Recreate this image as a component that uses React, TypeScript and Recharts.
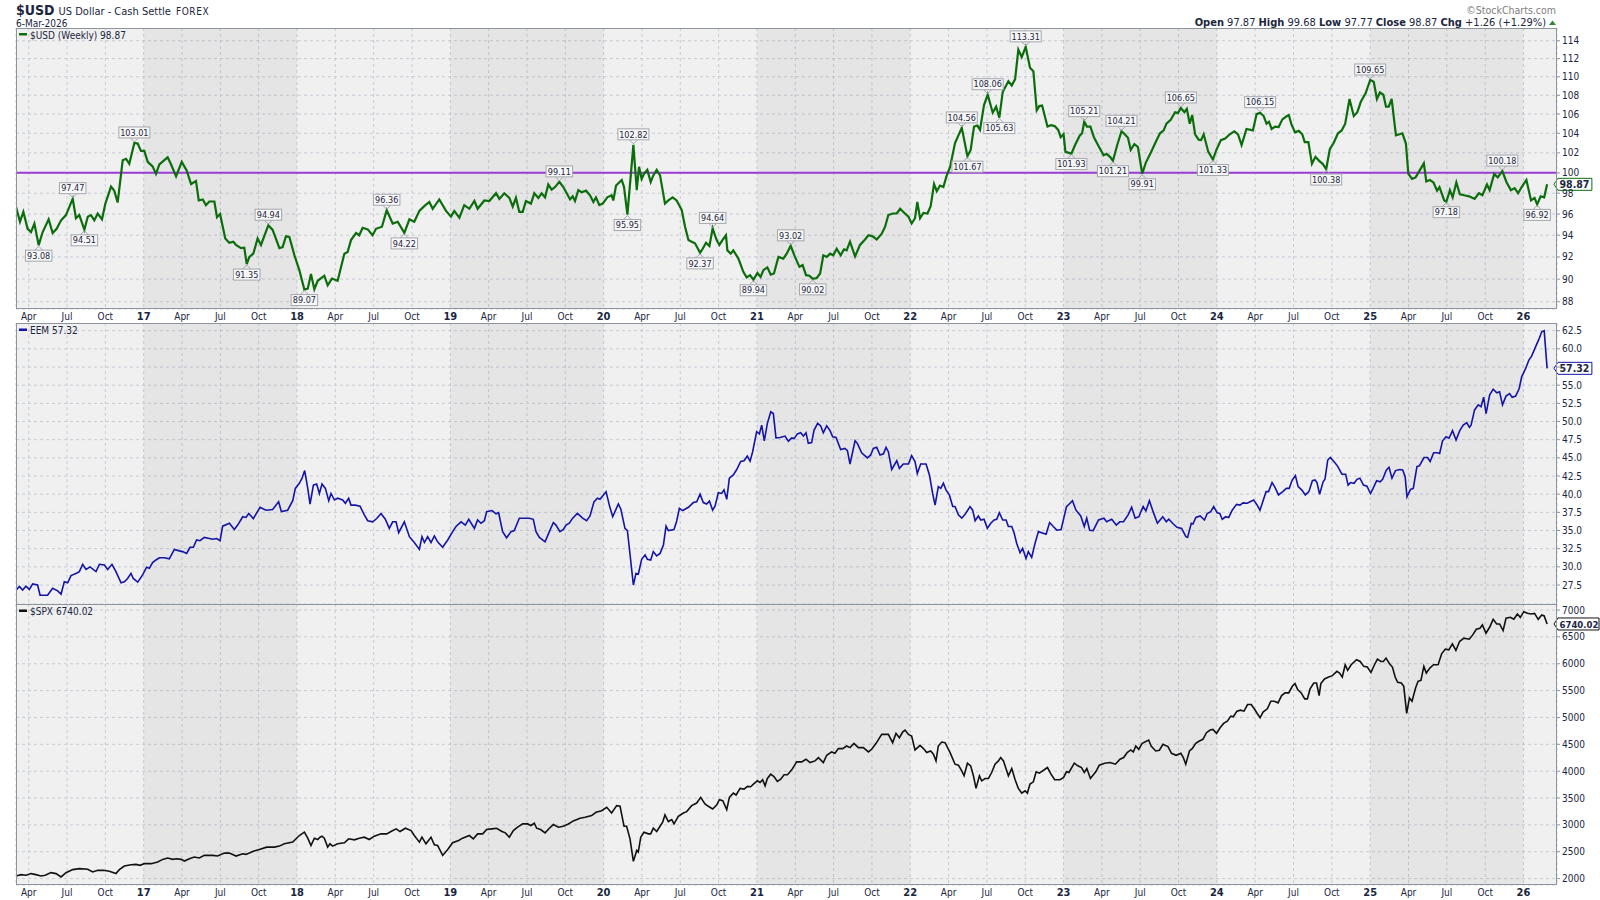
import React from 'react'
import {
  LineChart, Line, XAxis, YAxis, CartesianGrid,
  ReferenceArea, ReferenceLine, ReferenceDot,
} from 'recharts'

const FONT = '"DejaVu Sans Condensed", "DejaVu Sans", Verdana, sans-serif'
const INK = '#1b2640'
const FRAME = '#8e949c'

// time axis (fractional years)
const T0 = 2016.167
const T1 = 2026.2185
const years = [2016, 2017, 2018, 2019, 2020, 2021, 2022, 2023, 2024, 2025, 2026]
const monthLabels = ['Apr', 'Jul', 'Oct']
const shadedYears = [2017, 2019, 2021, 2023, 2025]

const usdTicks = [88, 90, 92, 94, 96, 98, 100, 102, 104, 106, 108, 110, 112, 114]
const eemTicks = [27.5, 30, 32.5, 35, 37.5, 40, 42.5, 45, 47.5, 50, 52.5, 55, 57.5, 60, 62.5]
const spxTicks = [2000, 2500, 3000, 3500, 4000, 4500, 5000, 5500, 6000, 6500, 7000]

const usdPivot = 100
const usdLast = 98.87
const eemLast = 57.32
const spxLast = 6740.02

const usdWeekly: [number, number][] = [
  [2016.167, 96.7], [2016.193, 95.27], [2016.215, 96.2], [2016.243, 94.6], [2016.265, 94.3], [2016.287, 95.1],
  [2016.315, 93.08], [2016.341, 94.3], [2016.380, 95.5], [2016.406, 94.2], [2016.432, 94.6], [2016.461, 95.4],
  [2016.493, 95.9], [2016.537, 97.47], [2016.558, 95.6], [2016.580, 95.9], [2016.613, 94.51], [2016.635, 95.75],
  [2016.656, 95.9], [2016.678, 95.4], [2016.700, 96.05], [2016.728, 95.5], [2016.750, 97.0], [2016.787, 98.65],
  [2016.808, 98.25], [2016.830, 97.1], [2016.863, 101.25], [2016.885, 101.4], [2016.906, 100.9], [2016.939, 103.01],
  [2016.961, 102.95], [2016.982, 102.2], [2017.004, 102.2], [2017.026, 101.1], [2017.058, 100.65], [2017.080, 99.9],
  [2017.102, 100.85], [2017.156, 101.55], [2017.178, 100.85], [2017.211, 99.65], [2017.248, 101.1], [2017.280, 100.25],
  [2017.309, 98.9], [2017.341, 99.2], [2017.359, 97.3], [2017.385, 97.4], [2017.406, 96.85], [2017.428, 97.2],
  [2017.461, 97.2], [2017.478, 95.7], [2017.498, 96.0], [2017.532, 93.7], [2017.558, 93.3], [2017.585, 93.4],
  [2017.602, 93.1], [2017.635, 92.8], [2017.656, 92.85], [2017.672, 91.35], [2017.689, 92.0], [2017.715, 92.3],
  [2017.743, 93.7], [2017.765, 93.1], [2017.813, 94.94], [2017.841, 94.5], [2017.885, 92.8], [2017.906, 92.9],
  [2017.928, 93.9], [2017.950, 93.85], [2017.983, 92.15], [2018.015, 90.8], [2018.048, 89.07], [2018.070, 89.15],
  [2018.091, 90.45], [2018.113, 89.1], [2018.135, 89.85], [2018.178, 90.3], [2018.200, 89.45], [2018.228, 90.05],
  [2018.265, 89.85], [2018.309, 92.3], [2018.330, 92.45], [2018.352, 93.55], [2018.385, 94.2], [2018.406, 94.0],
  [2018.428, 94.7], [2018.461, 94.55], [2018.493, 94.0], [2018.515, 94.6], [2018.554, 94.8], [2018.585, 96.36],
  [2018.624, 95.1], [2018.657, 95.27], [2018.700, 94.22], [2018.733, 95.5], [2018.765, 95.27], [2018.798, 96.3],
  [2018.830, 96.75], [2018.863, 97.15], [2018.885, 96.5], [2018.928, 97.4], [2018.972, 96.3], [2019.004, 95.75],
  [2019.026, 96.3], [2019.059, 95.65], [2019.091, 96.85], [2019.124, 96.5], [2019.157, 97.25], [2019.178, 96.5],
  [2019.222, 97.3], [2019.254, 97.25], [2019.298, 98.0], [2019.320, 97.45], [2019.352, 98.0], [2019.385, 97.55],
  [2019.407, 96.7], [2019.428, 97.55], [2019.450, 96.2], [2019.472, 96.2], [2019.493, 97.25], [2019.526, 97.0],
  [2019.548, 98.0], [2019.574, 97.55], [2019.596, 98.0], [2019.618, 97.6], [2019.639, 98.85], [2019.661, 98.35],
  [2019.683, 98.6], [2019.711, 99.11], [2019.737, 98.6], [2019.759, 98.0], [2019.781, 97.4], [2019.798, 97.7],
  [2019.813, 97.25], [2019.835, 98.3], [2019.857, 98.1], [2019.885, 98.25], [2019.911, 97.8], [2019.933, 97.15],
  [2019.950, 97.6], [2019.972, 96.85], [2019.994, 97.0], [2020.024, 97.6], [2020.052, 97.8], [2020.063, 97.3],
  [2020.081, 98.75], [2020.118, 99.3], [2020.133, 98.6], [2020.155, 95.95], [2020.194, 102.82], [2020.216, 98.3],
  [2020.231, 100.6], [2020.248, 99.4], [2020.263, 99.9], [2020.285, 100.3], [2020.307, 99.1], [2020.324, 99.75],
  [2020.346, 100.3], [2020.368, 99.75], [2020.400, 97.0], [2020.422, 97.3], [2020.450, 97.6], [2020.476, 97.3],
  [2020.509, 96.4], [2020.531, 94.8], [2020.553, 93.55], [2020.574, 93.4], [2020.596, 93.25], [2020.629, 92.37],
  [2020.646, 92.75], [2020.668, 93.3], [2020.690, 93.0], [2020.711, 94.64], [2020.737, 93.55], [2020.755, 93.1],
  [2020.777, 93.6], [2020.798, 94.0], [2020.807, 92.6], [2020.829, 92.3], [2020.846, 92.6], [2020.879, 91.85],
  [2020.911, 90.65], [2020.933, 90.15], [2020.955, 90.35], [2020.977, 89.94], [2021.003, 90.55], [2021.024, 90.2],
  [2021.042, 90.8], [2021.068, 91.05], [2021.090, 90.4], [2021.111, 90.5], [2021.140, 92.0], [2021.172, 91.85],
  [2021.194, 92.3], [2021.220, 93.02], [2021.248, 92.0], [2021.277, 91.1], [2021.298, 91.25], [2021.320, 90.35],
  [2021.342, 90.3], [2021.364, 90.02], [2021.390, 90.1], [2021.412, 90.5], [2021.433, 92.15], [2021.455, 92.0],
  [2021.477, 92.3], [2021.498, 92.15], [2021.520, 92.75], [2021.546, 92.15], [2021.568, 92.7], [2021.585, 92.6],
  [2021.607, 93.4], [2021.640, 92.05], [2021.672, 93.1], [2021.705, 93.6], [2021.727, 94.0], [2021.755, 93.9],
  [2021.781, 93.6], [2021.814, 94.15], [2021.836, 94.8], [2021.857, 95.9], [2021.886, 96.05], [2021.912, 96.05],
  [2021.934, 96.5], [2021.955, 96.2], [2021.988, 95.75], [2022.009, 95.1], [2022.031, 95.6], [2022.046, 97.15],
  [2022.064, 95.6], [2022.086, 96.1], [2022.112, 96.05], [2022.133, 96.75], [2022.155, 98.9], [2022.173, 98.2],
  [2022.194, 98.75], [2022.216, 98.6], [2022.238, 99.75], [2022.260, 100.6], [2022.292, 103.0], [2022.336, 104.56],
  [2022.373, 101.67], [2022.394, 102.3], [2022.416, 104.7], [2022.438, 104.8], [2022.455, 104.35], [2022.481, 106.95],
  [2022.505, 108.06], [2022.538, 106.15], [2022.560, 106.8], [2022.581, 105.63], [2022.603, 108.35], [2022.640, 109.5],
  [2022.662, 109.05], [2022.684, 109.75], [2022.705, 113.0], [2022.727, 112.15], [2022.753, 113.31], [2022.781, 111.0],
  [2022.803, 110.6], [2022.825, 106.4], [2022.842, 106.85], [2022.860, 106.9], [2022.895, 104.7], [2022.918, 104.85],
  [2022.942, 104.75], [2022.965, 104.35], [2022.981, 103.6], [2023.000, 103.9], [2023.012, 102.1], [2023.035, 102.0],
  [2023.051, 101.93], [2023.075, 102.8], [2023.105, 103.75], [2023.121, 104.0], [2023.135, 105.21], [2023.152, 104.7],
  [2023.175, 104.7], [2023.198, 103.6], [2023.228, 102.7], [2023.261, 101.75], [2023.280, 101.9], [2023.303, 101.6],
  [2023.322, 101.21], [2023.350, 102.8], [2023.378, 104.21], [2023.396, 103.95], [2023.420, 103.55], [2023.438, 102.3],
  [2023.462, 102.9], [2023.485, 102.6], [2023.513, 99.91], [2023.536, 101.0], [2023.571, 102.1], [2023.601, 103.1],
  [2023.629, 104.0], [2023.653, 104.3], [2023.671, 105.0], [2023.699, 105.4], [2023.727, 106.2], [2023.746, 106.1],
  [2023.765, 106.65], [2023.788, 106.2], [2023.804, 106.55], [2023.823, 105.0], [2023.839, 105.9], [2023.858, 103.9],
  [2023.881, 103.35], [2023.897, 103.3], [2023.914, 103.9], [2023.944, 102.1], [2023.974, 101.33], [2023.998, 102.35],
  [2024.026, 103.3], [2024.054, 103.45], [2024.084, 103.9], [2024.114, 104.2], [2024.138, 103.9], [2024.161, 102.8],
  [2024.193, 104.45], [2024.235, 104.3], [2024.259, 106.0], [2024.282, 106.15], [2024.305, 105.8], [2024.324, 105.0],
  [2024.340, 105.2], [2024.357, 104.45], [2024.380, 104.7], [2024.403, 104.65], [2024.427, 105.45], [2024.457, 105.8],
  [2024.469, 105.9], [2024.487, 104.9], [2024.510, 104.1], [2024.534, 104.25], [2024.557, 103.9], [2024.573, 103.1],
  [2024.597, 103.1], [2024.620, 100.9], [2024.643, 101.6], [2024.667, 101.2], [2024.690, 100.9], [2024.713, 100.38],
  [2024.737, 102.4], [2024.760, 102.95], [2024.790, 104.0], [2024.814, 104.3], [2024.837, 105.0], [2024.865, 107.6],
  [2024.893, 105.8], [2024.916, 106.2], [2024.939, 107.3], [2024.970, 108.2], [2025.000, 109.65], [2025.023, 109.45],
  [2025.044, 107.6], [2025.063, 108.3], [2025.086, 108.05], [2025.103, 106.8], [2025.121, 106.8], [2025.140, 107.6],
  [2025.168, 103.8], [2025.191, 103.9], [2025.210, 104.0], [2025.233, 102.95], [2025.249, 99.9], [2025.273, 99.4],
  [2025.296, 99.55], [2025.319, 100.15], [2025.350, 100.95], [2025.366, 99.15], [2025.389, 99.3], [2025.413, 99.05],
  [2025.436, 98.25], [2025.452, 98.6], [2025.483, 97.3], [2025.497, 97.18], [2025.520, 98.3], [2025.538, 97.6],
  [2025.562, 99.05], [2025.585, 97.9], [2025.613, 97.8], [2025.646, 97.7], [2025.681, 97.45], [2025.709, 98.0],
  [2025.732, 97.8], [2025.762, 98.85], [2025.779, 98.3], [2025.809, 99.9], [2025.832, 99.55], [2025.862, 100.18],
  [2025.890, 99.05], [2025.918, 98.3], [2025.942, 98.5], [2025.965, 98.0], [2025.988, 98.6], [2026.019, 99.3],
  [2026.049, 97.3], [2026.072, 97.55], [2026.089, 96.92], [2026.112, 97.7], [2026.135, 97.6], [2026.154, 98.87],
]

// labelled swing highs (1) and lows (-1)
const usdMarks: [number, number, number][] = [
  [2016.315, 93.08, -1], [2016.537, 97.47, 1], [2016.613, 94.51, -1], [2016.939, 103.01, 1],
  [2017.672, 91.35, -1], [2017.813, 94.94, 1], [2018.048, 89.07, -1], [2018.585, 96.36, 1],
  [2018.700, 94.22, -1], [2019.711, 99.11, 1], [2020.155, 95.95, -1], [2020.194, 102.82, 1],
  [2020.629, 92.37, -1], [2020.711, 94.64, 1], [2020.977, 89.94, -1], [2021.220, 93.02, 1],
  [2021.364, 90.02, -1], [2022.336, 104.56, 1], [2022.373, 101.67, -1], [2022.505, 108.06, 1],
  [2022.581, 105.63, -1], [2022.753, 113.31, 1], [2023.051, 101.93, -1], [2023.135, 105.21, 1],
  [2023.322, 101.21, -1], [2023.378, 104.21, 1], [2023.513, 99.91, -1], [2023.765, 106.65, 1],
  [2023.974, 101.33, -1], [2024.282, 106.15, 1], [2024.713, 100.38, -1], [2025.000, 109.65, 1],
  [2025.497, 97.18, -1], [2025.862, 100.18, 1], [2026.089, 96.92, -1],
]

const eemWeekly: [number, number][] = [
  [2016.167, 26.8], [2016.189, 27.3], [2016.210, 26.8], [2016.232, 27.35], [2016.254, 26.9], [2016.276, 27.65],
  [2016.308, 27.5], [2016.324, 26.1], [2016.373, 26.1], [2016.406, 27.05], [2016.439, 26.7], [2016.461, 26.25],
  [2016.482, 27.95], [2016.504, 27.8], [2016.526, 28.8], [2016.558, 29.1], [2016.580, 29.35], [2016.602, 30.35],
  [2016.624, 29.65], [2016.650, 30.0], [2016.689, 29.35], [2016.711, 30.35], [2016.743, 30.25], [2016.765, 29.65],
  [2016.793, 30.35], [2016.819, 29.35], [2016.852, 27.8], [2016.874, 27.95], [2016.895, 28.4], [2016.917, 29.1],
  [2016.932, 28.4], [2016.961, 27.9], [2016.993, 28.9], [2017.019, 29.95], [2017.037, 29.8], [2017.058, 30.6],
  [2017.080, 30.95], [2017.102, 31.25], [2017.135, 31.25], [2017.167, 31.1], [2017.200, 32.4], [2017.232, 32.2],
  [2017.254, 32.1], [2017.280, 31.85], [2017.302, 32.7], [2017.324, 32.7], [2017.345, 33.7], [2017.367, 33.6],
  [2017.395, 34.05], [2017.428, 33.9], [2017.450, 33.8], [2017.476, 33.9], [2017.498, 33.6], [2017.515, 35.6],
  [2017.559, 36.0], [2017.591, 35.15], [2017.613, 35.75], [2017.646, 36.9], [2017.667, 36.8], [2017.685, 37.35],
  [2017.715, 36.65], [2017.759, 38.2], [2017.798, 37.8], [2017.841, 37.9], [2017.880, 38.95], [2017.898, 37.6],
  [2017.939, 37.8], [2017.972, 39.1], [2017.989, 40.8], [2018.015, 41.5], [2018.033, 42.2], [2018.050, 43.25],
  [2018.070, 40.8], [2018.085, 38.65], [2018.107, 41.25], [2018.128, 41.4], [2018.146, 40.1], [2018.163, 41.4],
  [2018.185, 40.8], [2018.207, 39.1], [2018.222, 40.1], [2018.244, 39.2], [2018.265, 39.45], [2018.298, 39.2],
  [2018.315, 38.75], [2018.337, 39.45], [2018.352, 38.5], [2018.380, 38.5], [2018.411, 38.35], [2018.439, 37.15],
  [2018.461, 36.35], [2018.493, 36.2], [2018.520, 36.65], [2018.548, 37.35], [2018.576, 36.55], [2018.602, 35.3],
  [2018.624, 36.2], [2018.646, 36.2], [2018.663, 34.7], [2018.700, 36.2], [2018.733, 34.15], [2018.765, 33.35],
  [2018.798, 32.4], [2018.815, 34.15], [2018.831, 33.35], [2018.852, 34.15], [2018.874, 33.35], [2018.896, 34.25],
  [2018.917, 33.45], [2018.950, 32.7], [2018.983, 33.7], [2019.015, 34.85], [2019.037, 35.55], [2019.070, 36.2],
  [2019.098, 35.75], [2019.120, 36.55], [2019.157, 35.3], [2019.178, 36.45], [2019.200, 36.0], [2019.222, 36.35],
  [2019.237, 37.6], [2019.272, 37.75], [2019.298, 37.3], [2019.315, 37.45], [2019.341, 34.85], [2019.367, 34.0],
  [2019.396, 34.85], [2019.417, 35.0], [2019.450, 36.7], [2019.515, 36.7], [2019.541, 36.55], [2019.559, 34.85],
  [2019.581, 34.05], [2019.618, 33.45], [2019.646, 34.85], [2019.672, 36.1], [2019.689, 35.75], [2019.715, 34.85],
  [2019.737, 35.15], [2019.755, 35.75], [2019.776, 36.0], [2019.798, 36.7], [2019.829, 37.35], [2019.863, 36.7],
  [2019.889, 36.35], [2019.911, 37.0], [2019.937, 38.95], [2019.959, 39.45], [2019.976, 39.3], [2020.016, 40.35],
  [2020.037, 38.5], [2020.059, 36.9], [2020.096, 38.65], [2020.113, 37.9], [2020.139, 35.3], [2020.155, 35.0],
  [2020.194, 27.5], [2020.211, 29.1], [2020.226, 29.0], [2020.248, 31.05], [2020.270, 31.65], [2020.285, 31.05],
  [2020.307, 30.95], [2020.324, 32.1], [2020.346, 31.5], [2020.368, 31.85], [2020.390, 33.0], [2020.407, 35.6],
  [2020.422, 35.0], [2020.459, 35.15], [2020.477, 36.35], [2020.494, 38.05], [2020.516, 37.75], [2020.553, 38.2],
  [2020.585, 38.85], [2020.607, 38.95], [2020.629, 40.0], [2020.650, 38.85], [2020.672, 38.65], [2020.690, 39.05],
  [2020.711, 37.8], [2020.727, 38.4], [2020.748, 40.2], [2020.770, 40.1], [2020.785, 40.6], [2020.803, 39.3],
  [2020.820, 42.2], [2020.846, 42.65], [2020.868, 43.4], [2020.894, 44.5], [2020.916, 44.6], [2020.937, 45.25],
  [2020.955, 44.55], [2020.972, 45.85], [2020.998, 48.6], [2021.016, 48.3], [2021.031, 49.5], [2021.048, 47.35],
  [2021.068, 49.75], [2021.090, 51.35], [2021.107, 51.1], [2021.124, 47.75], [2021.151, 47.8], [2021.183, 48.0],
  [2021.205, 47.3], [2021.227, 47.75], [2021.242, 47.65], [2021.264, 48.3], [2021.285, 48.45], [2021.303, 48.0],
  [2021.320, 48.45], [2021.335, 47.0], [2021.357, 47.1], [2021.372, 48.8], [2021.396, 49.75], [2021.416, 49.4],
  [2021.433, 48.45], [2021.455, 49.4], [2021.477, 48.75], [2021.494, 47.9], [2021.516, 47.8], [2021.546, 46.15],
  [2021.574, 46.3], [2021.590, 46.0], [2021.607, 44.15], [2021.640, 47.35], [2021.655, 47.0], [2021.683, 45.7],
  [2021.720, 45.0], [2021.742, 45.4], [2021.759, 46.3], [2021.781, 46.45], [2021.803, 45.4], [2021.825, 45.55],
  [2021.842, 46.45], [2021.857, 45.85], [2021.879, 43.4], [2021.912, 44.6], [2021.929, 43.55], [2021.955, 44.15],
  [2021.988, 44.15], [2022.009, 45.3], [2022.031, 44.5], [2022.046, 42.85], [2022.068, 44.15], [2022.103, 44.15],
  [2022.125, 42.65], [2022.146, 40.1], [2022.162, 38.5], [2022.183, 41.05], [2022.199, 40.8], [2022.216, 41.5],
  [2022.233, 40.6], [2022.255, 39.9], [2022.277, 38.3], [2022.292, 38.3], [2022.314, 37.15], [2022.336, 36.7],
  [2022.358, 37.25], [2022.390, 38.3], [2022.407, 37.8], [2022.423, 36.35], [2022.444, 37.0], [2022.460, 36.45],
  [2022.481, 36.55], [2022.503, 35.3], [2022.525, 36.0], [2022.547, 36.45], [2022.564, 36.55], [2022.581, 37.45],
  [2022.603, 36.45], [2022.625, 36.45], [2022.640, 35.55], [2022.662, 35.55], [2022.677, 34.7], [2022.694, 33.25],
  [2022.716, 31.95], [2022.733, 32.55], [2022.755, 31.15], [2022.770, 32.1], [2022.792, 31.3], [2022.814, 33.25],
  [2022.836, 34.85], [2022.886, 34.5], [2022.909, 36.1], [2022.933, 35.55], [2022.956, 35.05], [2022.984, 35.15],
  [2023.019, 38.3], [2023.042, 38.75], [2023.058, 39.1], [2023.081, 37.8], [2023.112, 37.0], [2023.135, 35.55],
  [2023.151, 36.7], [2023.170, 35.05], [2023.193, 35.0], [2023.228, 36.45], [2023.263, 36.7], [2023.281, 36.2],
  [2023.314, 36.55], [2023.344, 35.75], [2023.367, 36.2], [2023.391, 36.2], [2023.421, 37.15], [2023.444, 38.2],
  [2023.467, 36.7], [2023.491, 36.9], [2023.519, 38.3], [2023.537, 37.7], [2023.560, 39.1], [2023.584, 37.6],
  [2023.612, 36.0], [2023.647, 36.9], [2023.670, 36.2], [2023.686, 36.55], [2023.716, 35.9], [2023.740, 35.45],
  [2023.770, 35.3], [2023.798, 34.15], [2023.809, 34.05], [2023.833, 36.0], [2023.844, 35.9], [2023.863, 36.8],
  [2023.891, 37.0], [2023.919, 36.45], [2023.937, 37.35], [2023.960, 37.6], [2023.979, 38.3], [2024.002, 37.45],
  [2024.019, 37.35], [2024.035, 36.55], [2024.058, 36.9], [2024.077, 36.8], [2024.100, 37.8], [2024.128, 38.6],
  [2024.151, 38.5], [2024.170, 38.8], [2024.198, 38.75], [2024.240, 39.2], [2024.263, 38.5], [2024.281, 37.8],
  [2024.321, 40.35], [2024.337, 40.35], [2024.360, 41.6], [2024.379, 40.95], [2024.402, 39.9], [2024.430, 40.35],
  [2024.453, 40.8], [2024.472, 40.8], [2024.491, 41.95], [2024.512, 42.55], [2024.530, 41.05], [2024.553, 40.6],
  [2024.577, 39.9], [2024.600, 40.35], [2024.623, 41.85], [2024.640, 41.95], [2024.653, 41.6], [2024.670, 40.0],
  [2024.693, 41.7], [2024.705, 42.05], [2024.723, 44.7], [2024.740, 45.05], [2024.763, 44.5], [2024.786, 43.9],
  [2024.816, 42.75], [2024.840, 42.75], [2024.856, 41.25], [2024.872, 41.6], [2024.895, 41.5], [2024.914, 42.05],
  [2024.933, 42.2], [2024.956, 41.25], [2024.979, 41.1], [2025.002, 40.1], [2025.019, 40.8], [2025.042, 41.85],
  [2025.065, 41.7], [2025.081, 42.05], [2025.105, 43.3], [2025.123, 43.7], [2025.142, 42.2], [2025.165, 43.25],
  [2025.193, 43.4], [2025.212, 43.35], [2025.228, 42.4], [2025.240, 39.65], [2025.263, 40.65], [2025.281, 40.8],
  [2025.305, 43.8], [2025.321, 43.9], [2025.351, 45.05], [2025.374, 45.05], [2025.391, 44.5], [2025.414, 45.7],
  [2025.437, 45.7], [2025.453, 45.6], [2025.472, 47.35], [2025.495, 47.9], [2025.514, 47.7], [2025.537, 48.75],
  [2025.560, 47.45], [2025.584, 48.75], [2025.607, 49.5], [2025.630, 49.85], [2025.647, 49.2], [2025.658, 49.5],
  [2025.681, 51.6], [2025.705, 52.3], [2025.723, 52.05], [2025.740, 53.35], [2025.756, 51.1], [2025.779, 53.65],
  [2025.802, 54.45], [2025.826, 53.95], [2025.844, 54.1], [2025.863, 52.3], [2025.886, 53.5], [2025.909, 53.85],
  [2025.926, 53.35], [2025.949, 53.5], [2025.972, 54.55], [2025.988, 56.15], [2026.012, 57.2], [2026.035, 58.45],
  [2026.053, 59.0], [2026.077, 60.2], [2026.100, 61.3], [2026.119, 62.35], [2026.135, 62.5], [2026.154, 57.32],
]

const spxWeekly: [number, number][] = [
  [2016.167, 2049], [2016.200, 2074], [2016.232, 2062], [2016.265, 2093], [2016.297, 2074], [2016.330, 2049],
  [2016.358, 2062], [2016.395, 2111], [2016.428, 2093], [2016.461, 2031], [2016.493, 2111], [2016.537, 2167],
  [2016.580, 2185], [2016.635, 2173], [2016.667, 2123], [2016.700, 2154], [2016.737, 2154], [2016.776, 2136],
  [2016.819, 2093], [2016.841, 2167], [2016.874, 2235], [2016.917, 2259], [2016.950, 2265], [2016.976, 2247],
  [2017.004, 2278], [2017.048, 2278], [2017.091, 2309], [2017.124, 2358], [2017.156, 2383], [2017.189, 2358],
  [2017.215, 2370], [2017.243, 2358], [2017.265, 2327], [2017.298, 2370], [2017.330, 2401], [2017.363, 2383],
  [2017.395, 2432], [2017.450, 2432], [2017.482, 2420], [2017.526, 2475], [2017.559, 2475], [2017.602, 2420],
  [2017.646, 2463], [2017.667, 2451], [2017.711, 2506], [2017.754, 2543], [2017.802, 2586], [2017.852, 2586],
  [2017.885, 2605], [2017.917, 2648], [2017.972, 2679], [2018.015, 2802], [2018.048, 2864], [2018.070, 2753],
  [2018.091, 2617], [2018.113, 2753], [2018.135, 2728], [2018.150, 2771], [2018.163, 2790], [2018.178, 2753],
  [2018.200, 2586], [2018.215, 2648], [2018.232, 2605], [2018.265, 2648], [2018.309, 2667], [2018.337, 2741],
  [2018.374, 2722], [2018.406, 2753], [2018.439, 2771], [2018.471, 2728], [2018.504, 2790], [2018.548, 2833],
  [2018.585, 2833], [2018.613, 2876], [2018.646, 2926], [2018.672, 2876], [2018.707, 2938], [2018.744, 2895],
  [2018.765, 2802], [2018.798, 2679], [2018.815, 2771], [2018.841, 2648], [2018.874, 2771], [2018.896, 2630],
  [2018.917, 2617], [2018.950, 2432], [2018.983, 2543], [2019.015, 2667], [2019.054, 2710], [2019.080, 2753],
  [2019.124, 2802], [2019.150, 2741], [2019.178, 2833], [2019.211, 2833], [2019.237, 2914], [2019.272, 2926],
  [2019.302, 2938], [2019.337, 2876], [2019.359, 2852], [2019.385, 2771], [2019.411, 2895], [2019.439, 2957],
  [2019.472, 3018], [2019.504, 3018], [2019.526, 2988], [2019.548, 3031], [2019.563, 2938], [2019.589, 2914],
  [2019.618, 2852], [2019.646, 2938], [2019.672, 3006], [2019.705, 2957], [2019.737, 2975], [2019.770, 3018],
  [2019.802, 3074], [2019.846, 3123], [2019.879, 3142], [2019.922, 3173], [2019.950, 3234], [2019.987, 3265],
  [2020.020, 3327], [2020.052, 3222], [2020.085, 3358], [2020.107, 3346], [2020.133, 2975], [2020.150, 2975],
  [2020.172, 2741], [2020.194, 2321], [2020.216, 2525], [2020.226, 2494], [2020.242, 2771], [2020.263, 2864],
  [2020.292, 2833], [2020.307, 2833], [2020.324, 2938], [2020.346, 2876], [2020.368, 2975], [2020.385, 3049],
  [2020.400, 3185], [2020.422, 3062], [2020.444, 3099], [2020.459, 3018], [2020.487, 3160], [2020.520, 3222],
  [2020.542, 3247], [2020.574, 3358], [2020.607, 3407], [2020.633, 3512], [2020.661, 3389], [2020.683, 3346],
  [2020.711, 3296], [2020.737, 3370], [2020.755, 3469], [2020.777, 3451], [2020.803, 3284], [2020.820, 3512],
  [2020.846, 3592], [2020.864, 3556], [2020.890, 3679], [2020.916, 3667], [2020.938, 3716], [2020.959, 3710],
  [2020.977, 3759], [2021.003, 3821], [2021.020, 3790], [2021.037, 3840], [2021.053, 3728], [2021.068, 3864],
  [2021.090, 3944], [2021.111, 3901], [2021.133, 3809], [2021.155, 3852], [2021.177, 3932], [2021.199, 3932],
  [2021.227, 4025], [2021.259, 4173], [2021.292, 4173], [2021.320, 4222], [2021.346, 4160], [2021.379, 4191],
  [2021.401, 4253], [2021.433, 4160], [2021.455, 4296], [2021.487, 4358], [2021.509, 4333], [2021.531, 4420],
  [2021.559, 4420], [2021.585, 4469], [2021.607, 4438], [2021.633, 4518], [2021.661, 4438], [2021.694, 4438],
  [2021.727, 4358], [2021.748, 4407], [2021.777, 4518], [2021.814, 4685], [2021.835, 4685], [2021.857, 4685],
  [2021.885, 4531], [2021.907, 4704], [2021.929, 4623], [2021.950, 4728], [2021.966, 4765], [2021.988, 4685],
  [2022.009, 4654], [2022.031, 4395], [2022.064, 4481], [2022.086, 4420], [2022.107, 4346], [2022.133, 4376],
  [2022.151, 4315], [2022.168, 4191], [2022.183, 4469], [2022.205, 4543], [2022.227, 4531], [2022.260, 4346],
  [2022.292, 4130], [2022.314, 4111], [2022.336, 4006], [2022.351, 3914], [2022.373, 4148], [2022.394, 4099],
  [2022.412, 3914], [2022.429, 3679], [2022.451, 3914], [2022.466, 3821], [2022.488, 3864], [2022.510, 3864],
  [2022.531, 3975], [2022.553, 4130], [2022.575, 4191], [2022.590, 4253], [2022.608, 4191], [2022.629, 4006],
  [2022.640, 3914], [2022.662, 4049], [2022.684, 3840], [2022.705, 3679], [2022.727, 3592], [2022.749, 3636],
  [2022.764, 3592], [2022.781, 3759], [2022.803, 3802], [2022.821, 3988], [2022.842, 3963], [2022.895, 4068],
  [2022.918, 3944], [2022.942, 3840], [2022.977, 3840], [2023.000, 3883], [2023.019, 3988], [2023.035, 3975],
  [2023.070, 4148], [2023.093, 4099], [2023.117, 4068], [2023.135, 3975], [2023.152, 4049], [2023.175, 3864],
  [2023.210, 3988], [2023.233, 4111], [2023.268, 4148], [2023.303, 4160], [2023.338, 4130], [2023.368, 4222],
  [2023.392, 4253], [2023.415, 4346], [2023.438, 4395], [2023.455, 4358], [2023.471, 4469], [2023.490, 4407],
  [2023.513, 4518], [2023.555, 4580], [2023.571, 4469], [2023.601, 4376], [2023.625, 4389], [2023.648, 4500],
  [2023.681, 4457], [2023.704, 4333], [2023.734, 4296], [2023.765, 4333], [2023.781, 4253], [2023.797, 4130],
  [2023.821, 4376], [2023.839, 4420], [2023.862, 4518], [2023.886, 4562], [2023.909, 4593], [2023.932, 4716],
  [2023.956, 4765], [2023.974, 4778], [2023.998, 4704], [2024.021, 4809], [2024.044, 4889], [2024.068, 4932],
  [2024.091, 5025], [2024.107, 5012], [2024.131, 5117], [2024.154, 5136], [2024.177, 5117], [2024.200, 5241],
  [2024.224, 5241], [2024.247, 5148], [2024.263, 5074], [2024.282, 4994], [2024.301, 5099], [2024.329, 5160],
  [2024.352, 5302], [2024.375, 5302], [2024.399, 5272], [2024.422, 5407], [2024.445, 5457], [2024.469, 5457],
  [2024.492, 5580], [2024.510, 5630], [2024.527, 5519], [2024.550, 5457], [2024.573, 5346], [2024.590, 5346],
  [2024.608, 5531], [2024.632, 5642], [2024.650, 5642], [2024.667, 5407], [2024.678, 5630], [2024.702, 5716],
  [2024.725, 5747], [2024.753, 5778], [2024.783, 5858], [2024.800, 5827], [2024.818, 5753], [2024.837, 5981],
  [2024.853, 5877], [2024.876, 5981], [2024.911, 6074], [2024.935, 6043], [2024.958, 5951], [2024.981, 5938],
  [2025.005, 5839], [2025.028, 5981], [2025.047, 6086], [2025.070, 6043], [2025.086, 6043], [2025.103, 6105],
  [2025.126, 6000], [2025.145, 5938], [2025.163, 5753], [2025.179, 5654], [2025.203, 5642], [2025.219, 5580],
  [2025.238, 5074], [2025.256, 5364], [2025.273, 5302], [2025.296, 5549], [2025.312, 5673], [2025.331, 5691],
  [2025.350, 5951], [2025.366, 5827], [2025.389, 5920], [2025.413, 5981], [2025.443, 5981], [2025.466, 6185],
  [2025.490, 6272], [2025.513, 6259], [2025.536, 6370], [2025.559, 6247], [2025.583, 6414], [2025.611, 6475],
  [2025.646, 6457], [2025.669, 6537], [2025.692, 6642], [2025.716, 6660], [2025.732, 6722], [2025.755, 6568],
  [2025.779, 6679], [2025.802, 6827], [2025.825, 6741], [2025.844, 6741], [2025.867, 6617], [2025.886, 6846],
  [2025.914, 6864], [2025.937, 6827], [2025.960, 6926], [2025.979, 6864], [2026.002, 6969], [2026.026, 6938],
  [2026.049, 6926], [2026.072, 6938], [2026.096, 6827], [2026.119, 6907], [2026.135, 6889], [2026.154, 6740.02],
]

const toRows = (arr: [number, number][]) => arr.map(([t, v]) => ({ t, v }))
const usdData = toRows(usdWeekly)
const eemData = toRows(eemWeekly)
const spxData = toRows(spxWeekly)

const quarterTicks = years
  .flatMap((y) => [y, y + 0.25, y + 0.5, y + 0.75])
  .filter((t) => t > T0 && t < T1)

function TimeTick(props: any) {
  const { x, y, payload } = props
  const t: number = payload.value
  const yr = Math.floor(t + 1e-6)
  const q = Math.round((t - yr) * 4)
  const isYear = q === 0
  const label = isYear ? String(yr).slice(2) : monthLabels[q - 1]
  return (
    <text x={x} y={y} dy="0.71em" textAnchor="middle" fontFamily={FONT}
      fontSize={isYear ? 11 : 10} fontWeight={isYear ? 700 : 400} fill={INK}>
      {label}
    </text>
  )
}

// price-axis tick; a label hidden under the last-value badge is skipped
function priceTick(fmt: (v: number) => string, last: number, clear: number) {
  return (props: any) => {
    const { x, y, payload } = props
    const v: number = payload.value
    if (Math.abs(v - last) < clear) return <g />
    return (
      <text x={x} y={y} dy="0.355em" textAnchor="start" fontFamily={FONT} fontSize={10} fill={INK}>{fmt(v)}</text>
    )
  }
}

// boxed value label with a little pointer, above (1) or below (-1) the swing point
function markShape(text: string, dir: number) {
  return (p: any) => {
    const { cx, cy } = p
    if (cx == null || cy == null) return <g />
    const w = text.length * 4.5 + 4
    const h = 11
    const gap = 5
    const edge = dir > 0 ? cy - gap : cy + gap
    const top = dir > 0 ? edge - h : edge
    return (
      <g>
        <polyline points={`${cx - 4},${edge} ${cx},${cy - dir} ${cx + 4},${edge}`}
          fill="none" stroke="#a3a7ad" strokeWidth={1} />
        <rect x={cx - w / 2} y={top} width={w} height={h} fill="#f7f7f7" stroke="#a3a7ad" strokeWidth={1} />
        <text x={cx} y={top + 8.7} textAnchor="middle" fontFamily={FONT} fontSize={9} fill={INK}>{text}</text>
      </g>
    )
  }
}

// last value badge on the price axis
function lastBadge(text: string, color: string) {
  return (p: any) => {
    const vb = p.viewBox
    if (!vb) return <g />
    const x = vb.x + vb.width
    const y = vb.y
    const fs = text.length > 5 ? 9.5 : 10.5
    const digits = text.replace(/[^0-9]/g, '').length
    const tw = (digits * 0.626 + (text.length - digits) * 0.342) * fs
    const w = Math.min(tw + 4, 1599 - (x + 1))
    return (
      <g>
        <path d={`M${x - 3},${y} L${x + 1},${y - 6} L${x + 1 + w},${y - 6} L${x + 1 + w},${y + 6} L${x + 1},${y + 6} Z`}
          fill="#fff" stroke={color} strokeWidth={1} />
        <text x={x + 2.5} y={y + 3.6} fontFamily={FONT} fontSize={fs} fontWeight={700} fill={INK}>{text}</text>
      </g>
    )
  }
}

function shading() {
  return shadedYears.map((y) => (
    <ReferenceArea key={`sh${y}`} x1={y} x2={y + 1} fill="#000" fillOpacity={0.042} stroke="none" ifOverflow="hidden" />
  ))
}

const margin = { top: 0, right: 0, bottom: 0, left: 16 }
const plain = (v: number) => String(v)

export default function App() {
  return (
    <div style={{ position: 'absolute', left: 0, top: 0, width: 1600, height: 900, background: '#fff', overflow: 'hidden', fontStretch: 'condensed' }}>
      {/* $USD weekly, log scale */}
      <div style={{ position: 'absolute', left: 0, top: 28 }}>
        <LineChart width={1600} height={295} data={usdData} margin={margin}>
          <CartesianGrid stroke="#c6ccd6" strokeDasharray="3 3" fill="#f0f0f0" />
          {shading()}
          <XAxis dataKey="t" type="number" domain={[T0, T1]} allowDataOverflow ticks={quarterTicks} interval={0}
            height={14} tickSize={0} tickMargin={3.5} axisLine={false} tickLine={false} tick={(p: any) => <TimeTick {...p} />} />
          <YAxis orientation="right" width={43} type="number" scale="log" domain={[87.37, 115.45]} allowDataOverflow
            ticks={usdTicks} interval={0} tickSize={3} tickMargin={2} axisLine={false} tickLine={{ stroke: FRAME }}
            tick={priceTick(plain, usdLast, 0.3)} />
          <ReferenceLine y={usdPivot} stroke="#9a3bd6" strokeWidth={2} />
          <Line dataKey="v" type="linear" stroke="#0c6d0c" strokeWidth={2.2} dot={false} isAnimationActive={false} />
          {usdMarks.map(([t, v, dir]) => (
            <ReferenceDot key={`m${t}`} x={t} y={v} r={0} ifOverflow="visible" shape={markShape(v.toFixed(2), dir)} />
          ))}
          <ReferenceLine y={usdLast} stroke="none" ifOverflow="visible" label={lastBadge(usdLast.toFixed(2), '#0c6d0c')} />
        </LineChart>
      </div>

      {/* EEM */}
      <div style={{ position: 'absolute', left: 0, top: 323 }}>
        <LineChart width={1600} height={281} data={eemData} margin={margin}>
          <CartesianGrid stroke="#c6ccd6" strokeDasharray="3 3" fill="#f0f0f0" />
          {shading()}
          <XAxis dataKey="t" type="number" domain={[T0, T1]} allowDataOverflow ticks={quarterTicks} interval={0} hide />
          <YAxis orientation="right" width={43} type="number" domain={[24.89, 63.56]} allowDataOverflow
            ticks={eemTicks} interval={0} tickSize={3} tickMargin={2} axisLine={false} tickLine={{ stroke: FRAME }}
            tick={priceTick((v) => v.toFixed(1), eemLast, 0.9)} />
          <Line dataKey="v" type="linear" stroke="#1414a6" strokeWidth={1.6} dot={false} isAnimationActive={false} />
          <ReferenceLine y={eemLast} stroke="none" ifOverflow="visible" label={lastBadge(eemLast.toFixed(2), '#1414a6')} />
        </LineChart>
      </div>

      {/* $SPX */}
      <div style={{ position: 'absolute', left: 0, top: 604 }}>
        <LineChart width={1600} height={295} data={spxData} margin={margin}>
          <CartesianGrid stroke="#c6ccd6" strokeDasharray="3 3" fill="#f0f0f0" />
          {shading()}
          <XAxis dataKey="t" type="number" domain={[T0, T1]} allowDataOverflow ticks={quarterTicks} interval={0}
            height={14} tickSize={0} tickMargin={3.5} axisLine={false} tickLine={false} tick={(p: any) => <TimeTick {...p} />} />
          <YAxis orientation="right" width={43} type="number" domain={[1881, 7112]} allowDataOverflow
            ticks={spxTicks} interval={0} tickSize={3} tickMargin={2} axisLine={false} tickLine={{ stroke: FRAME }}
            tick={priceTick(plain, spxLast, 100)} />
          <Line dataKey="v" type="linear" stroke="#111" strokeWidth={1.6} dot={false} isAnimationActive={false} />
          <ReferenceLine y={spxLast} stroke="none" ifOverflow="visible" label={lastBadge(spxLast.toFixed(2), '#111')} />
        </LineChart>
      </div>

      {/* header, legends, frames */}
      <svg width={1600} height={900} style={{ position: 'absolute', left: 0, top: 0, pointerEvents: 'none' }}>
        <text x={16} y={15} fontFamily={FONT} fill={INK}>
          <tspan fontSize={14} fontWeight={700}>$USD</tspan>
          <tspan dx={4} fontSize={11}>US Dollar - Cash Settle</tspan>
          <tspan dx={5} fontSize={10} letterSpacing={0.6}>FOREX</tspan>
        </text>
        <text x={16} y={26.5} fontFamily={FONT} fontSize={10} fill={INK}>6-Mar-2026</text>
        <text x={1556} y={14} textAnchor="end" fontFamily={FONT} fontSize={10.5} fill="#808080">©StockCharts.com</text>
        <text x={1546} y={26} textAnchor="end" fontFamily={FONT} fontSize={11} fill={INK}>
          <tspan fontWeight={700}>Open</tspan><tspan> 97.87  </tspan>
          <tspan fontWeight={700}>High</tspan><tspan> 99.68  </tspan>
          <tspan fontWeight={700}>Low</tspan><tspan> 97.77  </tspan>
          <tspan fontWeight={700}>Close</tspan><tspan> 98.87  </tspan>
          <tspan fontWeight={700}>Chg</tspan><tspan> +1.26 (+1.29%)</tspan>
        </text>
        <polygon points="1549,25 1556,25 1552.5,20.5" fill="#2f8a2f" />

        <rect x={19} y={33} width={8} height={2.5} fill="#0c6d0c" />
        <text x={30} y={38.5} fontFamily={FONT} fontSize={10} fill={INK}>$USD (Weekly) 98.87</text>
        <rect x={19} y={328.5} width={8} height={2.5} fill="#1414a6" />
        <text x={30} y={334} fontFamily={FONT} fontSize={10} fill={INK}>EEM 57.32</text>
        <rect x={19} y={609.5} width={8} height={2.5} fill="#111" />
        <text x={30} y={615} fontFamily={FONT} fontSize={10} fill={INK}>$SPX 6740.02</text>

        <rect x={16.5} y={28.5} width={1540} height={280} fill="none" stroke={FRAME} strokeWidth={1} />
        <rect x={16.5} y={323.5} width={1540} height={281} fill="none" stroke={FRAME} strokeWidth={1} />
        <rect x={16.5} y={604.5} width={1540} height={280} fill="none" stroke={FRAME} strokeWidth={1} />
      </svg>
    </div>
  )
}
